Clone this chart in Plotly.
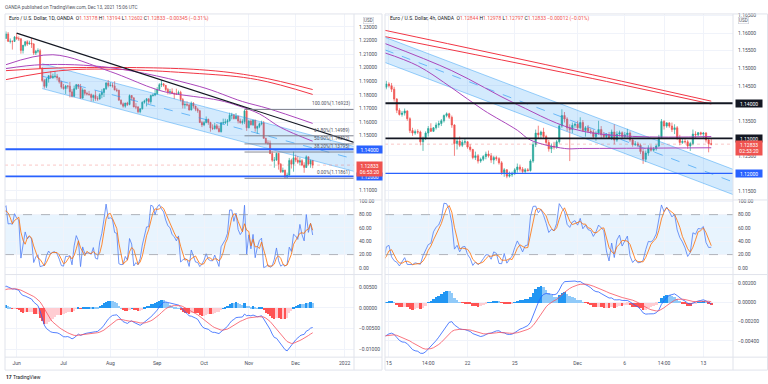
import numpy as np
import pandas as pd
import plotly.graph_objects as go

# ======================= DATA : EUR/USD daily (1D) =======================
D_FIRST = "2021-04-13"      # first (warm-up) bar used for indicators
D_VISIBLE = "2021-05-25"    # first bar shown on the chart
D_LAST = "2021-12-13"

d_open = [
    # Apr 13 - May 24 (indicator warm-up)
    1.1913, 1.1947, 1.1980, 1.1966, 1.1983, 1.2035, 1.2034, 1.2035, 1.2014, 1.2096, 1.2083, 1.2090, 1.2124, 1.2122,
    1.2020, 1.2063, 1.2015, 1.2004, 1.2065, 1.2165, 1.2131, 1.2150, 1.2075, 1.2080, 1.2145, 1.2150, 1.2225, 1.2175, 1.2225, 1.2180,
    # May 25 - 31
    1.2215, 1.2248, 1.2193, 1.2194, 1.2192,
    # Jun
    1.2226, 1.2212, 1.2212, 1.2127, 1.2165, 1.2191, 1.2174, 1.2180, 1.2174, 1.2107, 1.2121,
    1.2125, 1.1995, 1.1905, 1.1863, 1.1917, 1.1941, 1.1925, 1.1935, 1.1937, 1.1925, 1.1896,
    # Jul
    1.1857, 1.1846, 1.1865, 1.1864, 1.1822, 1.1790, 1.1845, 1.1875, 1.1860, 1.1776, 1.1836,
    1.1811, 1.1806, 1.1802, 1.1781, 1.1795, 1.1772, 1.1770, 1.1801, 1.1818, 1.1845, 1.1887,
    # Aug
    1.1868, 1.1870, 1.1866, 1.1835, 1.1833, 1.1761, 1.1734, 1.1717, 1.1740, 1.1729, 1.1795,
    1.1778, 1.1711, 1.1711, 1.1676, 1.1697, 1.1745, 1.1755, 1.1771, 1.1750, 1.1795, 1.1798,
    # Sep
    1.1808, 1.1840, 1.1875, 1.1881, 1.1870, 1.1840, 1.1819, 1.1823, 1.1812, 1.1806, 1.1805,
    1.1818, 1.1765, 1.1725, 1.1729, 1.1725, 1.1689, 1.1738, 1.1718, 1.1695, 1.1683, 1.1597,
    # Oct
    1.1579, 1.1596, 1.1620, 1.1597, 1.1556, 1.1553, 1.1572, 1.1552, 1.1529, 1.1594, 1.1595,
    1.1601, 1.1609, 1.1650, 1.1650, 1.1625, 1.1643, 1.1607, 1.1596, 1.1603, 1.1682,
    # Nov
    1.1558, 1.1607, 1.1580, 1.1614, 1.1554, 1.1568, 1.1587, 1.1593, 1.1480, 1.1445, 1.1445,
    1.1368, 1.1319, 1.1320, 1.1370, 1.1289, 1.1235, 1.1245, 1.1196, 1.1210, 1.1318, 1.1290,
    # Dec
    1.1337, 1.1320, 1.1305, 1.1316, 1.1284, 1.1266, 1.1344, 1.1291, 1.13178,
]
d_high = [
    1.1950, 1.1990, 1.1994, 1.1994, 1.2048, 1.2080, 1.2046, 1.2071, 1.2098, 1.2116, 1.2094, 1.2126, 1.2150, 1.2125,
    1.2079, 1.2072, 1.2030, 1.2072, 1.2172, 1.2182, 1.2181, 1.2157, 1.2098, 1.2154, 1.2162, 1.2245, 1.2233, 1.2245, 1.2243, 1.2226,
    1.2266, 1.2262, 1.2215, 1.2200, 1.2232,
    1.2254, 1.2230, 1.2216, 1.2167, 1.2195, 1.2201, 1.2197, 1.2218, 1.2180, 1.2131, 1.2142,
    1.2138, 1.2003, 1.1917, 1.1924, 1.1943, 1.1974, 1.1956, 1.1975, 1.1954, 1.1928, 1.1904,
    1.1880, 1.1873, 1.1870, 1.1895, 1.1842, 1.1868, 1.1880, 1.1880, 1.1880, 1.1849, 1.1838,
    1.1823, 1.1829, 1.1810, 1.1803, 1.1832, 1.1790, 1.1812, 1.1841, 1.1850, 1.1893, 1.1909,
    1.1893, 1.1888, 1.1900, 1.1849, 1.1838, 1.1766, 1.1744, 1.1741, 1.1749, 1.1803, 1.1799,
    1.1781, 1.1739, 1.1717, 1.1703, 1.1752, 1.1764, 1.1775, 1.1773, 1.1801, 1.1809, 1.1845,
    1.1857, 1.1886, 1.1909, 1.1885, 1.1872, 1.1851, 1.1843, 1.1848, 1.1815, 1.1845, 1.1831,
    1.1830, 1.1777, 1.1749, 1.1752, 1.1737, 1.1751, 1.1747, 1.1719, 1.1706, 1.1689, 1.1609,
    1.1609, 1.1641, 1.1625, 1.1602, 1.1583, 1.1595, 1.1586, 1.1573, 1.1601, 1.1625, 1.1624,
    1.1622, 1.1669, 1.1668, 1.1660, 1.1666, 1.1646, 1.1625, 1.1620, 1.1692, 1.1691,
    1.1616, 1.1618, 1.1616, 1.1616, 1.1573, 1.1595, 1.1610, 1.1608, 1.1485, 1.1466, 1.1464,
    1.1385, 1.1343, 1.1374, 1.1373, 1.1299, 1.1265, 1.1250, 1.1228, 1.1336, 1.1330, 1.1383,
    1.1360, 1.1350, 1.1340, 1.1327, 1.1304, 1.1355, 1.1346, 1.1325, 1.13194,
]
d_low = [
    1.1895, 1.1942, 1.1951, 1.1960, 1.1979, 1.2010, 1.2002, 1.1996, 1.2002, 1.2068, 1.2062, 1.2070, 1.2094, 1.2016,
    1.2014, 1.1986, 1.1988, 1.1990, 1.2052, 1.2124, 1.2116, 1.2052, 1.2051, 1.2074, 1.2121, 1.2149, 1.2152, 1.2167, 1.2161, 1.2177,
    1.2210, 1.2192, 1.2178, 1.2133, 1.2189,
    1.2205, 1.2197, 1.2103, 1.2104, 1.2155, 1.2160, 1.2170, 1.2145, 1.2093, 1.2093, 1.2106,
    1.1990, 1.1893, 1.1847, 1.1850, 1.1890, 1.1923, 1.1919, 1.1922, 1.1906, 1.1883, 1.1845,
    1.1838, 1.1807, 1.1846, 1.1781, 1.1781, 1.1782, 1.1836, 1.1844, 1.1772, 1.1772, 1.1795,
    1.1795, 1.1793, 1.1752, 1.1751, 1.1756, 1.1756, 1.1764, 1.1775, 1.1784, 1.1836, 1.1855,
    1.1861, 1.1853, 1.1835, 1.1820, 1.1757, 1.1725, 1.1706, 1.1705, 1.1718, 1.1723, 1.1758,
    1.1709, 1.1694, 1.1665, 1.1664, 1.1692, 1.1735, 1.1715, 1.1734, 1.1734, 1.1787, 1.1790,
    1.1801, 1.1834, 1.1857, 1.1859, 1.1828, 1.1804, 1.1804, 1.1808, 1.1770, 1.1799, 1.1801,
    1.1751, 1.1700, 1.1699, 1.1715, 1.1684, 1.1685, 1.1700, 1.1680, 1.1668, 1.1592, 1.1563,
    1.1570, 1.1591, 1.1580, 1.1529, 1.1541, 1.1544, 1.1545, 1.1524, 1.1523, 1.1582, 1.1585,
    1.1572, 1.1603, 1.1620, 1.1620, 1.1620, 1.1590, 1.1588, 1.1582, 1.1585, 1.1535,
    1.1554, 1.1575, 1.1571, 1.1529, 1.1513, 1.1555, 1.1576, 1.1479, 1.1440, 1.1432, 1.1365,
    1.1307, 1.1264, 1.1315, 1.1250, 1.1225, 1.1226, 1.1186, 1.1187, 1.1205, 1.1258, 1.1235,
    1.1305, 1.1293, 1.1283, 1.1276, 1.1227, 1.1262, 1.1280, 1.1264, 1.12602,
]
d_close = [
    1.1947, 1.1980, 1.1966, 1.1983, 1.2035, 1.2034, 1.2035, 1.2014, 1.2096, 1.2083, 1.2090, 1.2124, 1.2122, 1.2020,
    1.2063, 1.2015, 1.2004, 1.2065, 1.2165, 1.2131, 1.2150, 1.2075, 1.2080, 1.2145, 1.2150, 1.2225, 1.2175, 1.2225, 1.2180, 1.2215,
    1.2248, 1.2193, 1.2194, 1.2192, 1.2226,
    1.2212, 1.2212, 1.2127, 1.2165, 1.2191, 1.2174, 1.2180, 1.2174, 1.2107, 1.2121, 1.2125,
    1.1995, 1.1905, 1.1863, 1.1917, 1.1941, 1.1925, 1.1935, 1.1937, 1.1925, 1.1896, 1.1857,
    1.1846, 1.1865, 1.1864, 1.1822, 1.1790, 1.1845, 1.1875, 1.1860, 1.1776, 1.1836, 1.1811,
    1.1806, 1.1802, 1.1781, 1.1795, 1.1772, 1.1770, 1.1801, 1.1818, 1.1845, 1.1887, 1.1868,
    1.1870, 1.1866, 1.1835, 1.1833, 1.1761, 1.1734, 1.1717, 1.1740, 1.1729, 1.1795, 1.1778,
    1.1711, 1.1711, 1.1676, 1.1697, 1.1745, 1.1755, 1.1771, 1.1750, 1.1795, 1.1798, 1.1808,
    1.1840, 1.1875, 1.1881, 1.1870, 1.1840, 1.1819, 1.1823, 1.1812, 1.1806, 1.1805, 1.1818,
    1.1765, 1.1725, 1.1729, 1.1725, 1.1689, 1.1738, 1.1718, 1.1695, 1.1683, 1.1597, 1.1579,
    1.1596, 1.1620, 1.1597, 1.1556, 1.1553, 1.1572, 1.1552, 1.1529, 1.1594, 1.1595, 1.1601,
    1.1609, 1.1650, 1.1650, 1.1625, 1.1643, 1.1607, 1.1596, 1.1603, 1.1682, 1.1558,
    1.1607, 1.1580, 1.1614, 1.1554, 1.1568, 1.1587, 1.1593, 1.1480, 1.1445, 1.1445, 1.1368,
    1.1319, 1.1320, 1.1370, 1.1289, 1.1235, 1.1245, 1.1196, 1.1210, 1.1318, 1.1290, 1.1337,
    1.1320, 1.1305, 1.1316, 1.1284, 1.1266, 1.1344, 1.1291, 1.13178, 1.12833,
]

# ======================= DATA : EUR/USD 4h =======================
H_FIRST_DAY = "2021-11-10"   # first trading day (warm-up) of 4h data
H_VISIBLE_DAY = "2021-11-15"
H_LAST_DAY = "2021-12-13"
h_bar_hours = [-2, 2, 6, 10, 14, 18]   # session opens 22:00 UTC the day before

h_open = [
    1.1590, 1.1593, 1.1600, 1.1595, 1.1545, 1.1500,
    1.1482, 1.1475, 1.1465, 1.1450, 1.1458, 1.1452,
    1.1446, 1.1448, 1.1440, 1.1445, 1.1460, 1.1447,
    1.1446, 1.1455, 1.1450, 1.1440, 1.1412, 1.1380,
    1.1368, 1.1372, 1.1378, 1.1356, 1.1322, 1.1315,
    1.1319, 1.1318, 1.1290, 1.1300, 1.1315, 1.1328,
    1.1320, 1.1330, 1.1338, 1.1342, 1.1350, 1.1365,
    1.1370, 1.1360, 1.1338, 1.1285, 1.1292, 1.1280,
    1.1289, 1.1290, 1.1275, 1.1268, 1.1245, 1.1250,
    1.1235, 1.1240, 1.1248, 1.1255, 1.1250, 1.1238,
    1.1245, 1.1242, 1.1230, 1.1202, 1.1210, 1.1192,
    1.1196, 1.1200, 1.1210, 1.1218, 1.1212, 1.1205,
    1.1210, 1.1208, 1.1235, 1.1282, 1.1315, 1.1310,
    1.1318, 1.1305, 1.1288, 1.1270, 1.1278, 1.1275,
    1.1290, 1.1335, 1.1365, 1.1355, 1.1330, 1.1325,
    1.1337, 1.1340, 1.1330, 1.1345, 1.1322, 1.1330,
    1.1320, 1.1318, 1.1305, 1.1315, 1.1325, 1.1310,
    1.1305, 1.1310, 1.1300, 1.1318, 1.1295, 1.1312,
    1.1316, 1.1305, 1.1310, 1.1315, 1.1295, 1.1282,
    1.1284, 1.1280, 1.1262, 1.1240, 1.1258, 1.1272,
    1.1266, 1.1270, 1.1278, 1.1302, 1.1348, 1.1335,
    1.1344, 1.1335, 1.1325, 1.1330, 1.1300, 1.1288,
    1.1291, 1.1290, 1.1278, 1.1285, 1.1312, 1.1310,
    1.1316, 1.1312, 1.1315, 1.1295, 1.12844,
]
h_high = [
    1.1598, 1.1605, 1.1608, 1.1600, 1.1550, 1.1505,
    1.1485, 1.1480, 1.1470, 1.1462, 1.1465, 1.1458,
    1.1452, 1.1455, 1.1450, 1.1466, 1.1465, 1.1452,
    1.1464, 1.1460, 1.1458, 1.1447, 1.1415, 1.1386,
    1.1378, 1.1385, 1.1380, 1.1360, 1.1330, 1.1325,
    1.1326, 1.1322, 1.1305, 1.1320, 1.1335, 1.1343,
    1.1332, 1.1345, 1.1350, 1.1355, 1.1368, 1.1374,
    1.1373, 1.1365, 1.1340, 1.1300, 1.1305, 1.1295,
    1.1299, 1.1292, 1.1283, 1.1270, 1.1262, 1.1255,
    1.1245, 1.1252, 1.1262, 1.1265, 1.1258, 1.1250,
    1.1250, 1.1246, 1.1235, 1.1215, 1.1212, 1.1205,
    1.1205, 1.1215, 1.1228, 1.1225, 1.1218, 1.1215,
    1.1215, 1.1240, 1.1290, 1.1325, 1.1336, 1.1322,
    1.1330, 1.1310, 1.1295, 1.1285, 1.1290, 1.1295,
    1.1340, 1.1383, 1.1375, 1.1360, 1.1340, 1.1345,
    1.1345, 1.1350, 1.1360, 1.1352, 1.1335, 1.1338,
    1.1328, 1.1325, 1.1320, 1.1350, 1.1335, 1.1318,
    1.1315, 1.1318, 1.1325, 1.1340, 1.1320, 1.1322,
    1.1320, 1.1318, 1.1327, 1.1320, 1.1300, 1.1292,
    1.1290, 1.1285, 1.1270, 1.1265, 1.1280, 1.1280,
    1.1275, 1.1282, 1.1310, 1.1355, 1.1352, 1.1346,
    1.1346, 1.1345, 1.1340, 1.1335, 1.1310, 1.1298,
    1.1298, 1.1295, 1.1290, 1.1325, 1.1320, 1.1318,
    1.1319, 1.1318, 1.1318, 1.1300, 1.12978,
]
h_low = [
    1.1585, 1.1588, 1.1590, 1.1535, 1.1490, 1.1478,
    1.1470, 1.1460, 1.1440, 1.1445, 1.1448, 1.1443,
    1.1440, 1.1436, 1.1432, 1.1440, 1.1440, 1.1440,
    1.1440, 1.1445, 1.1432, 1.1405, 1.1372, 1.1365,
    1.1362, 1.1365, 1.1350, 1.1315, 1.1307, 1.1310,
    1.1312, 1.1280, 1.1264, 1.1295, 1.1305, 1.1318,
    1.1318, 1.1325, 1.1330, 1.1335, 1.1345, 1.1360,
    1.1355, 1.1330, 1.1250, 1.1268, 1.1275, 1.1275,
    1.1282, 1.1270, 1.1262, 1.1240, 1.1238, 1.1228,
    1.1230, 1.1235, 1.1240, 1.1245, 1.1230, 1.1226,
    1.1236, 1.1225, 1.1196, 1.1190, 1.1186, 1.1188,
    1.1190, 1.1195, 1.1202, 1.1205, 1.1200, 1.1198,
    1.1205, 1.1205, 1.1230, 1.1275, 1.1300, 1.1300,
    1.1300, 1.1280, 1.1262, 1.1258, 1.1268, 1.1270,
    1.1285, 1.1330, 1.1345, 1.1320, 1.1235, 1.1315,
    1.1330, 1.1325, 1.1325, 1.1318, 1.1305, 1.1315,
    1.1312, 1.1300, 1.1293, 1.1310, 1.1300, 1.1300,
    1.1300, 1.1298, 1.1295, 1.1283, 1.1290, 1.1305,
    1.1300, 1.1298, 1.1302, 1.1290, 1.1276, 1.1278,
    1.1275, 1.1255, 1.1227, 1.1232, 1.1250, 1.1262,
    1.1262, 1.1265, 1.1275, 1.1298, 1.1325, 1.1330,
    1.1330, 1.1318, 1.1312, 1.1295, 1.1280, 1.1284,
    1.1285, 1.1270, 1.1264, 1.1280, 1.1300, 1.1305,
    1.1308, 1.1300, 1.1288, 1.1260, 1.12797,
]
h_close = [
    1.1593, 1.1600, 1.1595, 1.1545, 1.1500, 1.1482,
    1.1475, 1.1465, 1.1450, 1.1458, 1.1452, 1.1446,
    1.1448, 1.1440, 1.1445, 1.1460, 1.1447, 1.1445,
    1.1455, 1.1450, 1.1440, 1.1412, 1.1380, 1.1368,
    1.1372, 1.1378, 1.1356, 1.1322, 1.1315, 1.1319,
    1.1318, 1.1290, 1.1300, 1.1315, 1.1328, 1.1320,
    1.1330, 1.1338, 1.1342, 1.1350, 1.1365, 1.1370,
    1.1360, 1.1338, 1.1285, 1.1292, 1.1280, 1.1289,
    1.1290, 1.1275, 1.1268, 1.1245, 1.1250, 1.1235,
    1.1240, 1.1248, 1.1255, 1.1250, 1.1238, 1.1245,
    1.1242, 1.1230, 1.1202, 1.1210, 1.1192, 1.1196,
    1.1200, 1.1210, 1.1218, 1.1212, 1.1205, 1.1210,
    1.1208, 1.1235, 1.1282, 1.1315, 1.1310, 1.1318,
    1.1305, 1.1288, 1.1270, 1.1278, 1.1275, 1.1290,
    1.1335, 1.1365, 1.1355, 1.1330, 1.1325, 1.1337,
    1.1340, 1.1330, 1.1345, 1.1322, 1.1330, 1.1320,
    1.1318, 1.1305, 1.1315, 1.1325, 1.1310, 1.1305,
    1.1310, 1.1300, 1.1318, 1.1295, 1.1312, 1.1316,
    1.1305, 1.1310, 1.1315, 1.1295, 1.1282, 1.1284,
    1.1280, 1.1262, 1.1240, 1.1258, 1.1272, 1.1266,
    1.1270, 1.1278, 1.1302, 1.1348, 1.1335, 1.1344,
    1.1335, 1.1325, 1.1330, 1.1300, 1.1288, 1.1291,
    1.1290, 1.1278, 1.1285, 1.1312, 1.1310, 1.1316,
    1.1312, 1.1315, 1.1295, 1.12845, 1.12833,
]

# ======================= TICKS / LABELS =======================
d_tick_text = ["Jun", "Jul", "Aug", "Sep", "Oct", "Nov", "Dec", "2022"]
d_tick_dates = ["2021-06-01", "2021-07-01", "2021-08-02", "2021-09-01", "2021-10-01",
                "2021-11-01", "2021-12-01", "2022-01-03"]
d_price_ticks = [1.11, 1.12, 1.13, 1.14, 1.15, 1.16, 1.17, 1.18, 1.19, 1.20, 1.21, 1.22, 1.23]
d_macd_ticks = [-0.01, -0.005, 0.0, 0.005]

h_tick_text = ["15", "14:00", "22", "25", "Dec", "6", "14:00", "13"]
h_tick_times = ["2021-11-15 02:00", "2021-11-17 14:00", "2021-11-22 02:00", "2021-11-25 02:00",
                "2021-12-01 02:00", "2021-12-06 02:00", "2021-12-08 14:00", "2021-12-13 02:00"]
h_price_ticks = [1.115, 1.12, 1.125, 1.13, 1.135, 1.14, 1.145, 1.15, 1.155, 1.16, 1.165]
h_macd_ticks = [-0.004, -0.002, 0.0, 0.002]
stoch_ticks = [0, 20, 40, 60, 80, 100]

header_text = "OANDA published on TradingView.com, Dec 13, 2021 15:06 UTC"
d_title = "Euro / U.S. Dollar, 1D, OANDA"
h_title = "Euro / U.S. Dollar, 4h, OANDA"
d_legend_vals = ["1.13178", "1.13194", "1.12602", "1.12833", "\u22120.00345 (\u22120.31%)"]
h_legend_vals = ["1.12844", "1.12978", "1.12797", "1.12833", "\u22120.00012 (\u22120.01%)"]
d_countdown = "06:53:20"
h_countdown = "02:53:20"
last_price = 1.12833

# ======================= DRAWINGS / MOVING AVERAGES =======================
d_ma_fast_dates = ["2021-05-25", "2021-06-24", "2021-08-02", "2021-08-27", "2021-09-08",
                   "2021-10-12", "2021-10-25", "2021-11-08", "2021-11-22", "2021-12-13"]
d_ma_fast_vals = [1.2022, 1.2095, 1.1971, 1.1854, 1.1817, 1.1760, 1.1720, 1.1660, 1.1560, 1.1459]
d_ma_slow_dates = ["2021-05-25", "2021-06-17", "2021-08-02", "2021-09-29", "2021-10-27", "2021-11-12", "2021-12-13"]
d_ma_slow_vals = [1.1993, 1.2022, 1.2000, 1.1861, 1.1751, 1.1700, 1.1590]
d_red_dates = ["2021-05-25", "2021-07-07", "2021-09-29", "2021-11-05", "2021-12-13"]
d_red_upper = [1.1978, 1.2000, 1.1985, 1.1934, 1.1839]
d_red_lower = [1.1912, 1.1985, 1.1956, 1.1912, 1.1803]
d_trend_dates = ["2021-06-01", "2021-09-03"]
d_trend_vals = [1.2254, 1.1909]
d_chan_dates = ["2021-06-17", "2021-12-13"]
d_chan_upper = [1.2029, 1.1501]
d_chan_lower = [1.1846, 1.1318]
d_fib_start = "2021-10-28"
d_fib_levels = [1.16923, 1.14989, 1.14392, 1.13795, 1.11861]
d_fib_labels = ["100.00%(1.16923)", "61.80%(1.14989)", "50.00%(1.14392)", "38.20%(1.13795)", "0.00%(1.11861)"]
d_hlines = [1.14, 1.12]

h_red_times = ["2021-11-12 18:00", "2021-12-01 06:00", "2021-12-13 14:00"]
h_red_upper = [1.1609, 1.1489, 1.1406]
h_red_lower = [1.1591, 1.1478, 1.1398]
h_ma_slow_times = ["2021-11-12 18:00", "2021-11-19 02:00", "2021-11-25 06:00", "2021-12-01 10:00", "2021-12-13 14:00"]
h_ma_slow_vals = [1.1572, 1.1493, 1.1396, 1.1320, 1.1305]
h_ma_fast_times = ["2021-11-12 18:00", "2021-11-16 22:00", "2021-11-19 02:00", "2021-11-23 02:00",
                   "2021-11-25 06:00", "2021-11-26 02:00", "2021-11-30 06:00", "2021-12-01 10:00", "2021-12-13 14:00"]
h_ma_fast_vals = [1.1545, 1.1507, 1.1444, 1.1381, 1.1323, 1.1295, 1.1271, 1.1271, 1.1273]
h_chan_times = ["2021-11-14 22:00", "2021-12-13 14:00"]
h_chan_upper = [1.1587, 1.1235]
h_chan_lower = [1.1515, 1.1163]
h_black_lines = [1.14, 1.13]
h_blue_lines = [1.12]

# price-axis ticks whose labels are hidden behind the coloured axis boxes
d_hidden_ticks = [1.12, 1.13, 1.14]
h_hidden_ticks = [1.12, 1.13, 1.14]

# ======================= helpers =======================
UP, DOWN = "#26a69a", "#ef5350"
BLUE, ORANGE = "#2962ff", "#ff6d00"
GRID, BORDER = "#f0f3fa", "#e0e3eb"
TXT = "#4a4e5a"
FONT = "Roboto"
TICK_SIZE = 5.0
W, H = 768, 384


def fx(px):
    return px / W


def fy(py):
    return 1 - py / H


def ema(v, n):
    return pd.Series(v).ewm(span=n, adjust=False).mean().to_numpy()


def stoch(hi, lo, cl, n=14, sm=3):
    hh = pd.Series(hi).rolling(n).max()
    ll = pd.Series(lo).rolling(n).min()
    k = 100 * (pd.Series(cl) - ll) / (hh - ll)
    return k.to_numpy(), k.rolling(sm).mean().to_numpy()


def macd(cl):
    m = ema(cl, 12) - ema(cl, 26)
    s = ema(m, 9)
    return m, s, m - s


def hist_colors(h):
    out = []
    for i, v in enumerate(h):
        p = h[i - 1] if i > 0 else v
        if v >= 0:
            out.append("#2196f3" if v >= p else "#90caf9")
        else:
            out.append("#ffcdd2" if v >= p else "#ff5252")
    return out


def extend(xa, ya, xb, yb, x):
    return ya + (yb - ya) * (x - xa) / (xb - xa)


# ---- daily positions (trading-bar index, 0 = first visible bar)
n_dwarm = int(np.busday_count(D_FIRST, D_VISIBLE))
assert len(d_close) == int(np.busday_count(D_FIRST, D_LAST)) + 1
for arr in (d_open, d_high, d_low):
    assert len(arr) == len(d_close)
d_x = np.arange(len(d_close)) - n_dwarm


def dpos(date):
    return int(np.busday_count(D_VISIBLE, date))


# ---- 4h positions
h_days = pd.bdate_range(H_FIRST_DAY, H_LAST_DAY)
h_times = [d + pd.Timedelta(hours=hh) for d in h_days for hh in h_bar_hours][:len(h_close)]
for arr in (h_open, h_high, h_low):
    assert len(arr) == len(h_close)
n_hwarm = 6 * int(np.busday_count(H_FIRST_DAY, H_VISIBLE_DAY))
h_x = np.arange(len(h_close)) - n_hwarm
h_pos_map = {t.strftime("%Y-%m-%d %H:%M"): i - n_hwarm for i, t in enumerate(h_times)}


def hpos(t):
    return h_pos_map[t]


def visible(ticks, hidden):
    return [t for t in ticks if all(abs(t - h) > 1e-9 for h in hidden)]


# ---- layout geometry (pixels)
PANE = {"price": (12, 199), "stoch": (199, 274), "macd": (274, 357)}
SIDES = {
    "L": dict(xpx=(5, 354), ax=("", "2", "3"), xr=[-0.47, 163.4], pr=[1.1027, 1.2395],
              mr=[-0.01195, 0.0081], pt=visible(d_price_ticks, d_hidden_ticks), mt=d_macd_ticks,
              tv=[dpos(d) for d in d_tick_dates], tt=d_tick_text),
    "R": dict(xpx=(385, 733), ax=("4", "5", "6"), xr=[-0.5, 132.3], pr=[1.1124, 1.1655],
              mr=[-0.00569, 0.0029], pt=visible(h_price_ticks, h_hidden_ticks), mt=h_macd_ticks,
              tv=[hpos(t) for t in h_tick_times], tt=h_tick_text),
}

fig = go.Figure()
layout = dict(width=W, height=H, margin=dict(l=0, r=0, t=0, b=0), paper_bgcolor="white",
              plot_bgcolor="white", showlegend=False, bargap=0, hovermode=False,
              font=dict(family=FONT, size=TICK_SIZE, color=TXT))

for side, s in SIDES.items():
    xd = [fx(s["xpx"][0]), fx(s["xpx"][1])]
    for k, pane in enumerate(["price", "stoch", "macd"]):
        a = s["ax"][k]
        xa, ya = "xaxis" + a, "yaxis" + a
        layout[xa] = dict(domain=xd, anchor="y" + a, range=s["xr"], tickvals=s["tv"], ticktext=s["tt"],
                          showticklabels=(pane == "macd"), showgrid=True, gridcolor=GRID, gridwidth=1,
                          zeroline=False, showline=False, ticks="", ticklabelstandoff=2,
                          tickfont=dict(size=TICK_SIZE, color=TXT), fixedrange=True,
                          rangeslider=dict(visible=False))
        top, bot = PANE[pane]
        yconf = dict(domain=[fy(bot), fy(top)], anchor="x" + a, side="right", showgrid=True,
                     gridcolor=GRID, zeroline=False, showline=False, ticks="", ticklabelstandoff=4,
                     tickfont=dict(size=TICK_SIZE, color=TXT), fixedrange=True)
        if pane == "price":
            yconf.update(range=s["pr"], tickvals=s["pt"], tickformat=".5f")
        elif pane == "stoch":
            yconf.update(range=[-10, 102], tickvals=stoch_ticks, tickformat=".2f")
        else:
            yconf.update(range=s["mr"], tickvals=s["mt"], tickformat=".5f")
        layout[ya] = yconf

fig.update_layout(**layout)

shapes, annotations = [], []


# ======================= traces per side =======================
def add_side(side, xs, o, hi, lo, cl):
    s = SIDES[side]
    ap, ast, am = s["ax"]
    shapes.append(dict(type="rect", xref=f"x{ast} domain", x0=0, x1=1, yref=f"y{ast}", y0=20, y1=80,
                       fillcolor="rgba(33,150,243,0.10)", line=dict(width=0), layer="below"))
    for lv in (20, 80):
        shapes.append(dict(type="line", xref=f"x{ast} domain", x0=0, x1=1, yref=f"y{ast}", y0=lv, y1=lv,
                           line=dict(color="#9598a1", width=0.7, dash="dash")))
    fig.add_trace(go.Candlestick(x=xs, open=o, high=hi, low=lo, close=cl, xaxis="x" + ap, yaxis="y" + ap,
                                 increasing=dict(line=dict(color=UP, width=0.7), fillcolor=UP),
                                 decreasing=dict(line=dict(color=DOWN, width=0.7), fillcolor=DOWN),
                                 whiskerwidth=0, hoverinfo="skip"))
    k, d = stoch(hi, lo, cl)
    fig.add_trace(go.Scatter(x=xs, y=k, mode="lines", line=dict(color="#4f7df5", width=0.8),
                             xaxis="x" + ast, yaxis="y" + ast, hoverinfo="skip"))
    fig.add_trace(go.Scatter(x=xs, y=d, mode="lines", line=dict(color=ORANGE, width=0.8),
                             xaxis="x" + ast, yaxis="y" + ast, hoverinfo="skip"))
    m, sg, hs = macd(cl)
    fig.add_trace(go.Bar(x=xs, y=hs, marker=dict(color=hist_colors(hs), line=dict(width=0)),
                         xaxis="x" + am, yaxis="y" + am, hoverinfo="skip"))
    fig.add_trace(go.Scatter(x=xs, y=m, mode="lines", line=dict(color=BLUE, width=0.8),
                             xaxis="x" + am, yaxis="y" + am, hoverinfo="skip"))
    fig.add_trace(go.Scatter(x=xs, y=sg, mode="lines", line=dict(color="#f7525f", width=0.8),
                             xaxis="x" + am, yaxis="y" + am, hoverinfo="skip"))


def add_line(side, xs, ys, color, width, dash=None, shape="spline"):
    ap = SIDES[side]["ax"][0]
    fig.add_trace(go.Scatter(x=xs, y=ys, mode="lines", xaxis="x" + ap, yaxis="y" + ap, hoverinfo="skip",
                             line=dict(color=color, width=width, dash=dash, shape=shape, smoothing=1.0)))


def add_channel(side, x0, x1, up, lowr, xr0, xr1):
    u0, u1 = extend(x0, up[0], x1, up[1], xr0), extend(x0, up[0], x1, up[1], xr1)
    l0, l1 = extend(x0, lowr[0], x1, lowr[1], xr0), extend(x0, lowr[0], x1, lowr[1], xr1)
    ap = SIDES[side]["ax"][0]
    fig.add_trace(go.Scatter(x=[xr0, xr1, xr1, xr0, xr0], y=[u0, u1, l1, l0, u0], mode="lines", fill="toself",
                             fillcolor="rgba(33,150,243,0.20)", line=dict(width=0),
                             xaxis="x" + ap, yaxis="y" + ap, hoverinfo="skip"))
    for yy0, yy1, dash, col in ((u0, u1, None, "rgba(33,150,243,0.55)"), (l0, l1, None, "rgba(33,150,243,0.55)"),
                                ((u0 + l0) / 2, (u1 + l1) / 2, "dash", "rgba(33,150,243,0.75)")):
        add_line(side, [xr0, xr1], [yy0, yy1], col, 0.8, dash=dash, shape="linear")


# ---------------- LEFT (daily) ----------------
add_side("L", d_x, d_open, d_high, d_low, d_close)
LXR = SIDES["L"]["xr"]
add_channel("L", dpos(d_chan_dates[0]), dpos(d_chan_dates[1]), d_chan_upper, d_chan_lower,
            dpos(d_chan_dates[0]), LXR[1])
add_line("L", [dpos(d) for d in d_red_dates], d_red_upper, "#f23645", 1.0)
add_line("L", [dpos(d) for d in d_red_dates], d_red_lower, "#f23645", 1.0)
add_line("L", [dpos(d) for d in d_ma_slow_dates], d_ma_slow_vals, "#ab47bc", 1.0)
add_line("L", [dpos(d) for d in d_ma_fast_dates], d_ma_fast_vals, "#ab47bc", 1.0)
tx0, tx1 = dpos(d_trend_dates[0]), dpos(d_trend_dates[1])
add_line("L", [tx0, LXR[1]], [d_trend_vals[0], extend(tx0, d_trend_vals[0], tx1, d_trend_vals[1], LXR[1])],
         "#131722", 1.1, shape="linear")
fs = dpos(d_fib_start)
for lv, lab in zip(d_fib_levels, d_fib_labels):
    add_line("L", [fs, LXR[1]], [lv, lv], "#787b86", 0.9, shape="linear")
    annotations.append(dict(xref="paper", x=fx(352), xanchor="right", yref="y", y=lv, yanchor="bottom",
                            yshift=0, text=lab, showarrow=False, font=dict(size=4.7, color="#50535e")))
for lv in d_hlines:
    shapes.append(dict(type="line", xref="x domain", x0=0, x1=1, yref="y", y0=lv, y1=lv,
                       line=dict(color=BLUE, width=1.8)))
shapes.append(dict(type="line", xref="x domain", x0=0, x1=1, yref="y", y0=last_price, y1=last_price,
                   line=dict(color="rgba(239,83,80,0.55)", width=0.6, dash="dot")))

# ---------------- RIGHT (4h) ----------------
add_side("R", h_x, h_open, h_high, h_low, h_close)
RXR = SIDES["R"]["xr"]
add_line("R", [hpos(t) for t in h_red_times], h_red_upper, "#f23645", 1.0)
add_line("R", [hpos(t) for t in h_red_times], h_red_lower, "#f23645", 1.0)
add_channel("R", hpos(h_chan_times[0]), hpos(h_chan_times[1]), h_chan_upper, h_chan_lower, RXR[0], RXR[1])
add_line("R", [hpos(t) for t in h_ma_slow_times], h_ma_slow_vals, "#ab47bc", 1.0)
add_line("R", [hpos(t) for t in h_ma_fast_times], h_ma_fast_vals, "#ab47bc", 1.0)
for lv in h_black_lines:
    shapes.append(dict(type="line", xref="x4 domain", x0=0, x1=1, yref="y4", y0=lv, y1=lv,
                       line=dict(color="#131722", width=1.8)))
for lv in h_blue_lines:
    shapes.append(dict(type="line", xref="x4 domain", x0=0, x1=1, yref="y4", y0=lv, y1=lv,
                       line=dict(color=BLUE, width=1.4)))
shapes.append(dict(type="line", xref="x4 domain", x0=0, x1=1, yref="y4", y0=last_price, y1=last_price,
                   line=dict(color="rgba(239,83,80,0.55)", width=0.6, dash="dot")))


# ---------------- axis labels (boxes) ----------------
def axis_box(xpx, yref, y, text, bg, yanchor="middle", yshift=0, w=24):
    annotations.append(dict(xref="paper", x=fx(xpx), xanchor="left", yref=yref, y=y, yanchor=yanchor,
                            yshift=yshift, text=text, showarrow=False, bgcolor=bg, borderpad=0.6, width=w,
                            font=dict(size=TICK_SIZE, color="white")))


for lv in d_hlines:
    axis_box(355.5, "y", lv, f"{lv:.5f}", BLUE)
axis_box(355.5, "y", last_price, f"{last_price:.5f}<br>{d_countdown}", "#ef5350", yanchor="top", yshift=4)
for lv in h_black_lines:
    axis_box(734.5, "y4", lv, f"{lv:.5f}", "#131722", w=25)
for lv in h_blue_lines:
    axis_box(734.5, "y4", lv, f"{lv:.5f}", BLUE, w=25)
axis_box(734.5, "y4", last_price, f"{last_price:.5f}<br>{h_countdown}", "#ef5350", yanchor="top", yshift=4, w=25)

for xpx in (368, 749):
    annotations.append(dict(xref="paper", yref="paper", x=fx(xpx), y=fy(15.5), text="USD", showarrow=False,
                            bgcolor="white", bordercolor="#c9ccd6", borderwidth=0.6, borderpad=0.5,
                            font=dict(size=4.5, color=TXT)))


# ---------------- headers ----------------
def legend_text(title, vals):
    red = "<span style='color:#ef5350'>{}</span>"
    return (f"{title}  O{red.format(vals[0])} H{red.format(vals[1])} L{red.format(vals[2])} "
            f"C{red.format(vals[3])} {red.format(vals[4])}")


annotations.append(dict(xref="paper", yref="paper", x=fx(3), y=fy(6), xanchor="left", yanchor="middle",
                        text=header_text, showarrow=False, font=dict(size=4.7, color="#50535e")))
annotations.append(dict(xref="paper", yref="paper", x=fx(7), y=fy(17), xanchor="left", yanchor="middle",
                        text=legend_text(d_title, d_legend_vals), showarrow=False,
                        font=dict(size=5.0, color="#131722")))
annotations.append(dict(xref="paper", yref="paper", x=fx(388), y=fy(17), xanchor="left", yanchor="middle",
                        text=legend_text(h_title, h_legend_vals), showarrow=False,
                        font=dict(size=5.0, color="#131722")))
annotations.append(dict(xref="paper", yref="paper", x=fx(4), y=fy(377), xanchor="left", yanchor="middle",
                        text="<b>17</b> TradingView", showarrow=False, font=dict(size=5.0, color="#131722")))

# ---------------- frames / separators ----------------
for (x0, x1, xa) in ((5, 382, 354), (385, 767.5, 733)):
    shapes.append(dict(type="rect", xref="paper", yref="paper", x0=fx(x0), x1=fx(x1), y0=fy(370), y1=fy(12),
                       line=dict(color=BORDER, width=1), layer="above"))
    shapes.append(dict(type="line", xref="paper", yref="paper", x0=fx(xa), x1=fx(xa), y0=fy(370), y1=fy(12),
                       line=dict(color=BORDER, width=1), layer="above"))
    for yy in (199, 274, 357):
        shapes.append(dict(type="line", xref="paper", yref="paper", x0=fx(x0), x1=fx(x1), y0=fy(yy), y1=fy(yy),
                           line=dict(color=BORDER, width=1), layer="above"))

fig.update_layout(shapes=shapes, annotations=annotations)
fig.write_html("out.html", config={"displayModeBar": False},
               post_script="document.body.style.margin='0';document.body.style.overflow='hidden';")
